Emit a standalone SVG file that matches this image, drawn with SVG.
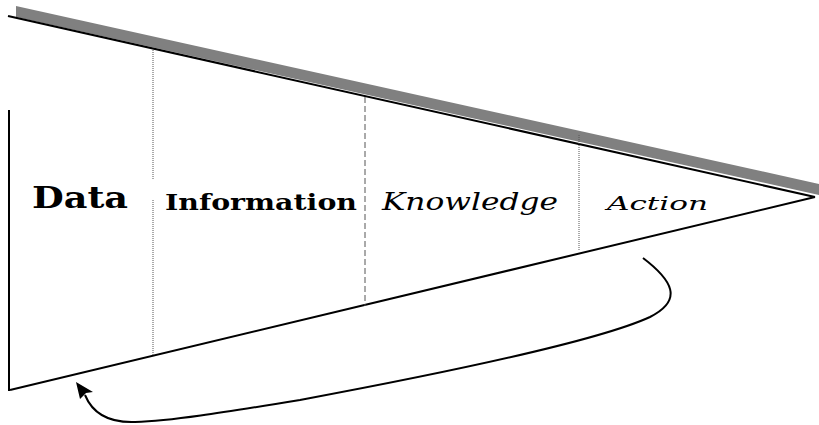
<svg xmlns="http://www.w3.org/2000/svg" width="819" height="425" viewBox="0 0 819 425">
<style>
.edge{stroke:#000;stroke-width:2;fill:none}
.div{stroke:#555;stroke-width:1;fill:none;stroke-dasharray:1 1}
.lbl{fill:#000;font-family:'DejaVu Serif',serif}
</style>
<rect width="819" height="425" fill="#fff"/>
<g id="funnel">
<polygon points="16,6 819,184 819,195 16,17" fill="#808080"/>
<line class="edge" x1="8" y1="16" x2="815" y2="197"/>
<line class="edge" x1="815" y1="197" x2="10" y2="390"/>
<line class="edge" x1="9" y1="110" x2="9" y2="391"/>
</g>
<g id="dividers">
<line class="div" x1="153" y1="50" x2="153" y2="180"/>
<line class="div" x1="153" y1="200" x2="153" y2="356"/>
<line class="div" x1="365" y1="97" x2="365" y2="306" style="stroke-dasharray:6 3"/>
<line class="div" x1="579" y1="135" x2="579" y2="250"/>
</g>
<g id="data"><text class="lbl" x="32" y="208" font-weight="bold" font-size="30" textLength="96" lengthAdjust="spacingAndGlyphs">Data</text></g>
<g id="information"><text class="lbl" x="165" y="210" font-weight="bold" font-size="22" textLength="192" lengthAdjust="spacingAndGlyphs">Information</text></g>
<g id="knowledge"><text class="lbl" x="382" y="210" font-style="italic" font-size="24" textLength="176" lengthAdjust="spacingAndGlyphs">Knowledge</text></g>
<g id="action"><text class="lbl" x="607" y="210" font-style="italic" font-size="19" textLength="101" lengthAdjust="spacingAndGlyphs">Action</text></g>
<g id="connectors">
<path class="edge" d="M643,258 C672,280 684,300 650,317 C600,340 450,372 300,400 C220,413 170,421 135,422 C108,423 92,412 85,395"/>
<polygon points="76,382 93,392 86,393 80,399" fill="#000"/>
</g>
</svg>
